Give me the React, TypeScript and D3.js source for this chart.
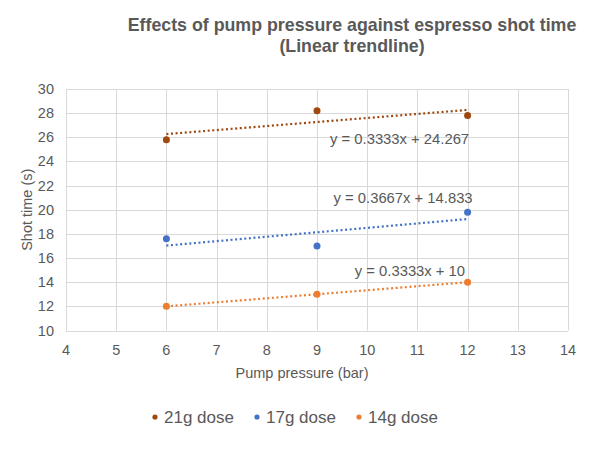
import React from 'react';
import * as d3 from 'd3';

const pressures = [6, 9, 12];
const seriesNames = ['21g dose', '17g dose', '14g dose'];
const dose21 = [25.8, 28.2, 27.8];
const dose17 = [17.6, 17.0, 19.8];
const dose14 = [12, 13, 14];
const seriesColors = ['#9E480E', '#4472C4', '#ED7D31'];
const equations = ['y = 0.3333x + 24.267', 'y = 0.3667x + 14.833', 'y = 0.3333x + 10'];
// where the equation labels sit, in data units (right end x, baseline y)
const eqAnchorX = [12.03, 12.1, 11.95];
const eqAnchorY = [25.45, 20.6, 14.55];
const xTicks = d3.range(4, 15, 1);
const yTicks = d3.range(10, 31, 2);

const W = 600;
const H = 450;
const margin = { top: 89, right: 32, bottom: 120, left: 66 };
const font = '"Liberation Sans", Arial, sans-serif';
const textColor = '#595959';

// least squares fit, same as spreadsheet linear trendline
function fit(xs: number[], ys: number[]) {
  const mx = d3.mean(xs)!;
  const my = d3.mean(ys)!;
  let num = 0;
  let den = 0;
  xs.forEach((x, i) => {
    num += (x - mx) * (ys[i] - my);
    den += (x - mx) * (x - mx);
  });
  const slope = num / den;
  return { slope, intercept: my - slope * mx };
}

export default function App() {
  const x = d3.scaleLinear().domain([4, 14]).range([margin.left, W - margin.right]);
  const y = d3.scaleLinear().domain([10, 30]).range([H - margin.bottom + 0.5, margin.top]);
  const series = [dose21, dose17, dose14];

  const line = d3
    .line<[number, number]>()
    .x(d => x(d[0]))
    .y(d => y(d[1]));

  const legendX = [155, 257, 359];

  return (
    <svg width={W} height={H} style={{ display: 'block', position: 'absolute', left: 0, top: 0 }}>
      <rect width={W} height={H} fill="#fff" />
      <text x={352} y={31} textAnchor="middle" fontFamily={font} fontWeight="bold" fontSize={17.8} fill={textColor}>
        Effects of pump pressure against espresso shot time
      </text>
      <text x={352} y={52} textAnchor="middle" fontFamily={font} fontWeight="bold" fontSize={17.8} fill={textColor}>
        (Linear trendline)
      </text>

      {/* gridlines */}
      <g stroke="#d9d9d9" strokeWidth={1}>
        {xTicks.map(t => (
          <line key={'gx' + t} x1={Math.round(x(t)) + 0.5} x2={Math.round(x(t)) + 0.5} y1={y(10)} y2={y(30)} />
        ))}
        {yTicks.map(t => (
          <line key={'gy' + t} x1={x(4)} x2={x(14)} y1={Math.round(y(t)) + 0.5} y2={Math.round(y(t)) + 0.5} />
        ))}
      </g>

      {/* tick labels */}
      <g fontFamily={font} fontSize={14.5} fill={textColor}>
        {xTicks.map(t => (
          <text key={'tx' + t} x={x(t)} y={355} textAnchor="middle">
            {t}
          </text>
        ))}
        {yTicks.map(t => (
          <text key={'ty' + t} x={54} y={y(t) + 5} textAnchor="end">
            {t}
          </text>
        ))}
      </g>

      <text x={302} y={378} textAnchor="middle" fontFamily={font} fontSize={14.5} fill={textColor}>
        Pump pressure (bar)
      </text>
      <text
        transform={`translate(32,${y(20)}) rotate(-90)`}
        textAnchor="middle"
        fontFamily={font}
        fontSize={14.5}
        fill={textColor}
      >
        Shot time (s)
      </text>

      {/* trendlines */}
      {series.map((vals, i) => {
        const f = fit(pressures, vals);
        const x0 = d3.min(pressures)!;
        const x1 = d3.max(pressures)!;
        const pts: [number, number][] = [
          [x0, f.slope * x0 + f.intercept],
          [x1, f.slope * x1 + f.intercept],
        ];
        return (
          <path
            key={'tl' + i}
            d={line(pts) || ''}
            fill="none"
            stroke={seriesColors[i]}
            strokeWidth={2.2}
            strokeDasharray="2 2.6"
          />
        );
      })}

      {/* points */}
      {series.map((vals, i) => (
        <g key={'pts' + i} fill={seriesColors[i]}>
          {vals.map((v, j) => (
            <circle key={j} cx={x(pressures[j])} cy={y(v)} r={3.5} />
          ))}
        </g>
      ))}

      {/* equations */}
      {equations.map((eq, i) => (
        <text
          key={'eq' + i}
          x={x(eqAnchorX[i])}
          y={y(eqAnchorY[i])}
          textAnchor="end"
          fontFamily={font}
          fontSize={14.8}
          fill={textColor}
        >
          {eq}
        </text>
      ))}

      {/* legend */}
      {seriesNames.map((name, i) => (
        <g key={'lg' + i} transform={`translate(${legendX[i]},417)`}>
          <circle cx={0} cy={0} r={2.6} fill={seriesColors[i]} />
          <text x={9} y={6} fontFamily={font} fontSize={17} fill={textColor}>
            {name}
          </text>
        </g>
      ))}
    </svg>
  );
}
